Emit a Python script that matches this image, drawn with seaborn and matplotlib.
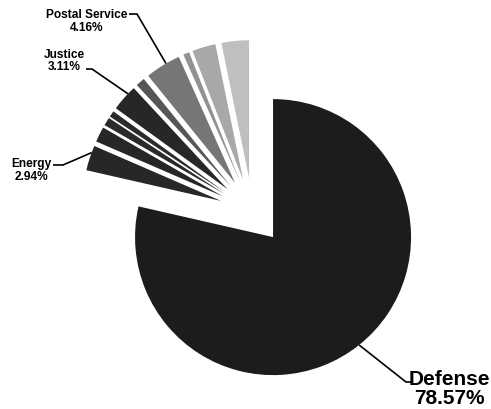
import matplotlib
matplotlib.use("Agg")
import matplotlib.pyplot as plt
import seaborn as sns
import numpy as np

# ---- data ----
categories = ["Defense", "Energy", "Other A", "Other B", "Other C", "Justice",
              "Other D", "Postal Service", "Other E", "Other F", "Other G"]
shares = [78.57, 2.94, 1.79, 0.96, 0.72, 3.11, 1.07, 4.16, 0.72, 2.75, 3.21]
shown_labels = ["Defense", "Energy", "Justice", "Postal Service"]

# ---- style ----
sns.set_theme(style="white")
plt.rcParams["font.family"] = ["Liberation Sans", "DejaVu Sans"]

colors = ["#1c1c1c", "#272727", "#272727", "#2a2a2a", "#2a2a2a", "#272727",
          "#565656", "#767676", "#929292", "#a8a8a8", "#bfbfbf"]

W, H, DPI = 491, 410, 100
fig = plt.figure(figsize=(W / DPI, H / DPI), dpi=DPI)
ax = fig.add_axes([0, 0, 1, 1])

res = ax.pie(shares, colors=colors, startangle=90, counterclock=False,
             explode=[0.24] * len(shares), radius=1,
             wedgeprops=dict(linewidth=0, antialiased=True))
wedges = res[0]

# pixel geometry: pie centre at (252.4, 212.2) px, radius 138 px
CX, CY, R = 252.4, 212.2, 138.0
ax.set_xlim(-CX / R, (W - CX) / R)
ax.set_ylim(-(H - CY) / R, CY / R)
ax.set_aspect("equal")
ax.axis("off")


def px(x, y):
    return ((x - CX) / R, (CY - y) / R)


# label layout (pixel positions of text, line end, elbow; fraction along wedge)
layout = {
    "Defense":        dict(text=(449, 389), end=(413, 383), elbow=(406, 383), frac=0.50, size=15, ls=1.0),
    "Energy":         dict(text=(31, 170.5), end=(53, 166), elbow=(63, 166), frac=0.72, size=8.6, ls=1.1),
    "Justice":        dict(text=(64, 61), end=(86, 70), elbow=(92, 70), frac=0.70, size=8.6, ls=1.1),
    "Postal Service": dict(text=(87, 21.5), end=(129, 15), elbow=(137, 15), frac=0.60, size=8.6, ls=1.1),
}

for name in shown_labels:
    i = categories.index(name)
    w = wedges[i]
    spec = layout[name]
    ang = np.deg2rad(w.theta2 - spec["frac"] * (w.theta2 - w.theta1))
    cx, cy = w.center
    tx, ty = cx + w.r * np.cos(ang), cy + w.r * np.sin(ang)
    ex, ey = px(*spec["elbow"])
    nx, ny = px(*spec["end"])
    ax.plot([tx, ex, nx], [ty, ey, ny], color="black", lw=1.2,
            solid_joinstyle="miter", solid_capstyle="butt")
    lx, ly = px(*spec["text"])
    ax.text(lx, ly, f"{name}\n{shares[i]:.2f}%", ha="center", va="center",
            fontsize=spec["size"], fontweight="bold", color="black",
            linespacing=spec["ls"])

fig.savefig("out.png", dpi=DPI)
